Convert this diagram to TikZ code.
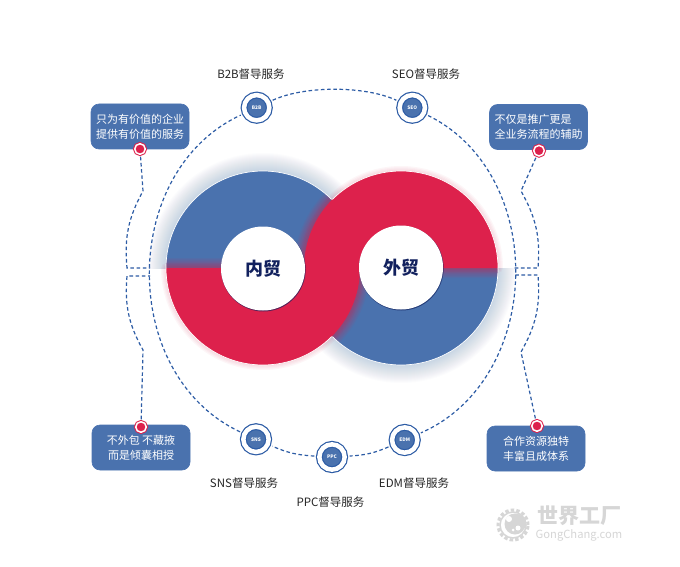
\documentclass[tikz,border=0pt]{standalone}
\usepackage{fontspec}
\setmainfont{Noto Sans CJK SC}
\newfontfamily\cjk{Noto Sans CJK SC}
\usetikzlibrary{positioning}

\definecolor{midblue}{RGB}{74,114,174}
\definecolor{lineblue}{RGB}{45,92,165}
\definecolor{hired}{RGB}{221,33,76}
\definecolor{navy}{RGB}{18,33,94}
\definecolor{markgrey}{RGB}{214,214,214}

\tikzset{
	dashline/.style={draw=lineblue,line width=1.2pt,dash pattern=on 3.6pt off 2.6pt},
	service/.style={circle,fill=midblue,draw=lineblue,double=white,double distance=4.5pt,line width=1.2pt,
		minimum size=25.3pt,inner sep=0pt,outer sep=5pt,text=white,font=\cjk\bfseries\fontsize{4.8}{5}\selectfont},
	tag/.style={text=black!85,font=\cjk\fontsize{11.5}{13}\selectfont,inner sep=0pt},
	notebox/.style={rectangle,rounded corners=8pt,fill=midblue,draw=lineblue!85,line width=.6pt,minimum width=98pt,
		minimum height=45pt,inner sep=0pt,text=white,font=\cjk\fontsize{11}{15.3}\selectfont},
	pindot/.style={circle,fill=hired,draw=hired,double=white,double distance=1.5pt,line width=1pt,
		minimum size=10.5pt,inner sep=0pt,outer sep=2.5pt},
	hole/.style={circle,fill=white,minimum size=84pt,inner sep=0pt,text=navy,font=\cjk\bfseries\fontsize{18}{20}\selectfont},
	rim/.style={white,line width=.7pt},
}

\begin{document}
\begin{tikzpicture}[x=1pt,y=1pt]
	\useasboundingbox[fill=white] (0,0) rectangle (680,-567);

	\begin{scope}
		\clip (140,-268) rectangle (360,-140);
		\foreach \g in {1,...,18}
			\fill[midblue,opacity=.014] (263,-268) circle ({97+\g});
	\end{scope}
	\begin{scope}
		\clip (304,-268) rectangle (530,-396);
		\foreach \g in {1,...,18}
			\fill[midblue,opacity=.014] (401,-268) circle ({97+\g});
	\end{scope}

	\fill[midblue] (166,-268) arc (180:0:97) -- cycle;
	\fill[midblue] (304,-268) arc (180:360:97) -- cycle;

	\begin{scope}
		\clip (166,-268) arc (180:0:97) -- cycle (304,-268) arc (180:360:97) -- cycle;
		\foreach \g in {1,...,8}
			\draw[hired,opacity=.06,line width=2.5*\g pt,line join=round]
				(166,-268) arc (180:360:97) -- (359,-268) arc (180:0:42) -- (498,-268) arc (0:180:97) -- (305,-268) arc (0:-180:42) -- cycle;
	\end{scope}
	\foreach \g in {1,...,4}
		\draw[hired,opacity=.04,line width=2.5*\g pt,line join=round]
			(166,-268) arc (180:360:97) -- (359,-268) arc (180:0:42) -- (498,-268) arc (0:180:97) -- (305,-268) arc (0:-180:42) -- cycle;
	\fill[hired] (166,-268) arc (180:360:97) -- (359,-268) arc (180:0:42) -- (498,-268) arc (0:180:97) -- (305,-268) arc (0:-180:42) -- cycle;

	\draw[rim] (166,-268) arc (180:45:97);
	\draw[rim] (166,-268) arc (180:315:97);
	\draw[rim] (498,-268) arc (0:135:97);
	\draw[rim] (498,-268) arc (0:-135:97);

	\fill[navy,opacity=.65] (263.4,-269.2) circle (42.3);
	\fill[navy,opacity=.65] (401.4,-268.2) circle (42.3);

	\node[hole] (neimao) at (263,-268.5) {内贸};
	\node[hole] (waimao) at (401,-267.5) {外贸};

	\node[service] (b2b) at (256.7,-107.7) {B2B};
	\node[service] (seo) at (412.3,-107.7) {SEO};
	\node[service] (sns) at (256,-439.3) {SNS};
	\node[service] (ppc) at (332,-457) {PPC};
	\node[service] (edm) at (404.7,-440) {EDM};

	\node[tag] (b2blabel) at (251,-73.7) {B2B督导服务};
	\node[tag] (seolabel) at (426,-73.7) {SEO督导服务};
	\node[tag] (snslabel) at (244,-483) {SNS督导服务};
	\node[tag] (ppclabel) at (330.5,-502) {PPC督导服务};
	\node[tag] (edmlabel) at (414,-483) {EDM督导服务};

	\node[notebox,align=left] (lefttop) at (140,-126.5) {只为有价值的企业\\提供有价值的服务};
	\node[notebox,align=left] (righttop) at (538.5,-127) {不仅是推广更是\phantom{助}\\全业务流程的辅助};
	\node[notebox,align=center] (leftlow) at (141,-447.5) {不外包 不藏掖\\而是倾囊相授};
	\node[notebox,align=center] (rightlow) at (536,-448.5) {合作资源独特\\丰富且成体系};

	\node[pindot] (ltpin) at (140,-149) {};
	\node[pindot] (rtpin) at (539,-150.7) {};
	\node[pindot] (lbpin) at (141,-427) {};
	\node[pindot] (rbpin) at (537,-426) {};

	\coordinate (ltbend) at (143,-191);
	\coordinate (ltfoot) at (127,-268);
	\coordinate (ltjoin) at (150,-268);
	\coordinate (lbfoot) at (127,-276);
	\coordinate (lbjoin) at (150,-276);
	\coordinate (lbbend) at (143,-350);
	\coordinate (rtbend) at (521,-191);
	\coordinate (rtfoot) at (538,-268);
	\coordinate (rtjoin) at (514,-268);
	\coordinate (rbfoot) at (538,-275);
	\coordinate (rbjoin) at (514,-275);
	\coordinate (rbbend) at (521,-352);

	\draw[dashline] (b2b) to[bend left=25,looseness=.72] (seo);
	\draw[dashline] (seo) to[bend left=65,looseness=1.08] (edm);
	\draw[dashline] (edm) to[bend left=10] (ppc);
	\draw[dashline] (ppc) to[bend left=10] (sns);
	\draw[dashline] (sns) to[bend left=65,looseness=1.08] (b2b);

	\draw[dashline] (ltpin) -- (ltbend) to[bend right=17] (ltfoot) -- (ltjoin);
	\draw[dashline] (lbpin) -- (lbbend) to[bend left=17] (lbfoot) -- (lbjoin);
	\draw[dashline] (rtpin) -- (rtbend) to[bend left=17] (rtfoot) -- (rtjoin);
	\draw[dashline] (rbpin) -- (rbbend) to[bend right=17] (rbfoot) -- (rbjoin);

	\node[markgrey,font=\cjk\bfseries\fontsize{21}{22}\selectfont,inner sep=0pt] (markcn) at (579.5,-516) {世界工厂};
	\node[markgrey,font=\fontsize{11.2}{12}\selectfont,inner sep=0pt] (marken) at (579,-535) {GongChang.com};
	\draw[markgrey,line width=3pt,dash pattern=on 3.4pt off 2.2pt] (513,-525) circle (15);
	\draw[markgrey,line width=1.5pt] (513,-525) circle (13);
	\fill[markgrey] (515,-524) circle (10.5);
	\fill[white] (509,-519) circle (3) (518,-528) circle (2.5) (513,-530) circle (1.5);
\end{tikzpicture}
\end{document}
